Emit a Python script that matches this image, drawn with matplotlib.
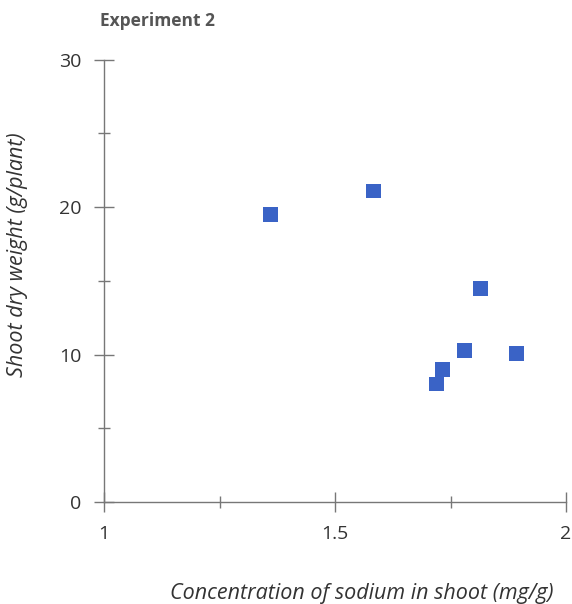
import matplotlib.pyplot as plt
from matplotlib.ticker import MultipleLocator

plt.rcParams.update({
    "font.family": ["Open Sans", "DejaVu Sans"],
    "axes.edgecolor": "#777777",
    "xtick.color": "#777777",
    "ytick.color": "#777777",
    "xtick.labelcolor": "#333333",
    "ytick.labelcolor": "#333333",
})

# sodium concentration in shoot (mg/g) vs shoot dry weight (g/plant)
sodium = [1.361, 1.583, 1.815, 1.781, 1.892, 1.732, 1.720]
dry_weight = [19.5, 21.1, 14.5, 10.3, 10.1, 9.0, 8.0]

x_ticks = [1, 1.5, 2]
x_tick_labels = ["1", "1.5", "2"]
y_ticks = [0, 10, 20, 30]

fig = plt.figure(figsize=(5.72, 6.04), dpi=100)
ax = fig.add_axes([0.182, 0.169, 0.8075, 0.732])

ax.scatter(sodium, dry_weight, marker="s", s=115, color="#3a63c6",
           edgecolors="none", zorder=3, clip_on=False)

ax.set_xlim(1, 2)
ax.set_ylim(0, 30)
ax.set_xticks(x_ticks)
ax.set_xticklabels(x_tick_labels)
ax.set_yticks(y_ticks)
ax.xaxis.set_minor_locator(MultipleLocator(0.25))
ax.yaxis.set_minor_locator(MultipleLocator(5))
ax.tick_params(which="major", direction="inout", length=15, width=1,
               labelsize=14, pad=9)
ax.tick_params(which="minor", direction="inout", length=8, width=1)

for side in ["top", "right"]:
    ax.spines[side].set_visible(False)
for side in ["left", "bottom"]:
    ax.spines[side].set_linewidth(1)

ax.set_xlabel("Concentration of sodium in shoot (mg/g)", fontsize=15.5,
              style="italic", color="#333333", va="center")
ax.set_ylabel("Shoot dry weight (g/plant)", fontsize=15.5,
              style="italic", color="#333333", va="center")
ax.xaxis.set_label_coords(0.558, -0.206)
ax.yaxis.set_label_coords(-0.188, 0.559)

fig.text(0.175, 0.965, "Experiment 2", fontsize=12.5, fontweight="bold",
         color="#555555", va="center", ha="left")

fig.savefig("out.png", dpi=100)
